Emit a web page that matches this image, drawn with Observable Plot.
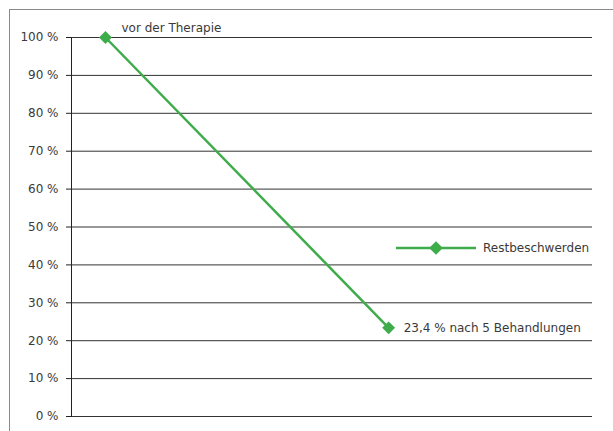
<!DOCTYPE html>
<html>
<head>
<meta charset="utf-8">
<script src="https://cdn.jsdelivr.net/npm/d3@7"></script>
<script src="https://cdn.jsdelivr.net/npm/@observablehq/plot@0.6"></script>
<style>
  html, body { margin: 0; padding: 0; background: #fff; }
  #wrap { position: relative; width: 613px; height: 431px; overflow: hidden; }
  #frame { position: absolute; left: 9px; top: 9px; width: 700px; height: 500px; border: 1px solid #8a8a8a; box-sizing: border-box; }
  #chart { position: absolute; left: 0; top: 0; }
  #legend { position: absolute; left: 396px; top: 240px; display: flex; align-items: center; font: 12px "DejaVu Sans", sans-serif; color: #3a3a3a; }
  #legend svg { margin-right: 7px; }
</style>
</head>
<body>
<div id="wrap">
  <div id="frame"></div>
  <div id="chart"></div>
  <div id="legend"></div>
</div>
<script>
const stages = ["vor der Therapie", "nach 5 Behandlungen"];
const treatments = [0, 5];
const values = [1.0, 0.234];
const labels = ["vor der Therapie", "23,4 % nach 5 Behandlungen"];
const yTicks = [0, 0.1, 0.2, 0.3, 0.4, 0.5, 0.6, 0.7, 0.8, 0.9, 1.0];
const seriesName = "Restbeschwerden";
const green = "#3fac4b";

const data = stages.map((s, i) => ({stage: s, x: treatments[i], y: values[i], label: labels[i]}));

const chart = Plot.plot({
  width: 613,
  height: 431,
  marginLeft: 71,
  marginRight: 21,
  marginTop: 37,
  marginBottom: 15,
  style: {fontFamily: "'DejaVu Sans', sans-serif", fontSize: "12px", color: "#3a3a3a", background: "transparent"},
  x: {domain: [-0.6, 8.6], axis: null},
  y: {domain: [0, 1]},
  marks: [
    Plot.ruleY(yTicks, {y: d => d, stroke: "#333", strokeWidth: 1}),
    Plot.axisY({ticks: yTicks, tickFormat: d => `${Math.round(d * 100)} %`, tickSize: 5, tickPadding: 8, stroke: "#222", fill: "#3a3a3a", label: null, fontSize: 12}),
    Plot.frame({anchor: "left", stroke: "#222"}),
    Plot.line(data, {x: "x", y: "y", stroke: green, strokeWidth: 2.5}),
    Plot.dot(data, {x: "x", y: "y", symbol: "diamond2", r: 5.8, fill: green, stroke: "none"}),
    Plot.text(data.slice(0, 1), {x: "x", y: "y", text: "label", textAnchor: "start", dx: 16, dy: -9, fill: "#3a3a3a", fontSize: 12}),
    Plot.text(data.slice(1), {x: "x", y: "y", text: "label", textAnchor: "start", dx: 15, dy: 0, fill: "#3a3a3a", fontSize: 12})
  ]
});
document.getElementById("chart").appendChild(chart);

const legend = document.getElementById("legend");
const sym = d3.symbol(d3.symbolDiamond2, 120)();
legend.innerHTML = `<svg width="80" height="16"><line x1="0" x2="80" y1="8" y2="8" stroke="${green}" stroke-width="2.5"/><path d="${sym}" transform="translate(40,8)" fill="${green}"/></svg><span>${seriesName}</span>`;
</script>
</body>
</html>
